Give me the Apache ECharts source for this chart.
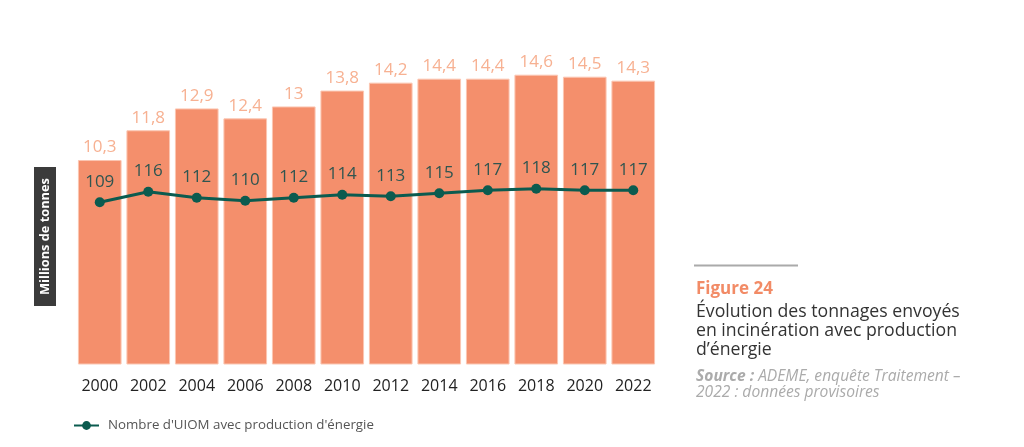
<!DOCTYPE html>
<html style="height: 100%">
  <head>
    <meta charset="utf-8" />
    <title>Figure 24</title>
    <script src="https://cdn.jsdelivr.net/npm/echarts@6/dist/echarts.min.js"></script>
  </head>
  <body style="height: 100%; margin: 0; background: #fff">
    <div id="main" style="width: 1024px; height: 447px"></div>
    <script type="text/javascript">
      var years = ["2000", "2002", "2004", "2006", "2008", "2010", "2012", "2014", "2016", "2018", "2020", "2022"];
      // millions de tonnes
      var tonnages = [10.3, 11.8, 12.9, 12.4, 13, 13.8, 14.2, 14.4, 14.4, 14.6, 14.5, 14.3];
      // nombre d'UIOM
      var uiom = [109, 116, 112, 110, 112, 114, 113, 115, 117, 118, 117, 117];

      var FONT = "Open Sans";
      var myChart = echarts.init(document.getElementById("main"));

      var option = {
        animation: false,
        textStyle: { fontFamily: FONT },
        grid: { left: 75.5, right: 366.5, top: 7.2, bottom: 82.5 },
        legend: {
          left: 68,
          top: 414,
          itemWidth: 25,
          itemHeight: 11,
          itemGap: 10,
          textStyle: { color: "#555", fontSize: 13.3, fontFamily: FONT, padding: [0, 0, 0, 4] },
          data: ["Nombre d'UIOM avec production d'énergie"],
        },
        xAxis: {
          type: "category",
          data: years,
          axisLine: { show: false },
          axisTick: { show: false },
          axisLabel: { color: "#222", fontSize: 16, margin: 14, interval: 0 },
        },
        yAxis: [
          { type: "value", min: 0, max: 18, show: false },
          { type: "value", min: 0, max: 240, show: false },
        ],
        series: [
          {
            name: "Tonnages",
            type: "bar",
            data: tonnages,
            barCategoryGap: "10%",
            itemStyle: { color: "#F48F6C", borderColor: "#FBC6B2", borderWidth: 1 },
            label: {
              show: true,
              position: "top",
              distance: 4,
              color: "#F7B192",
              fontSize: 17,
              formatter: function (p) {
                return String(p.value).replace(".", ",");
              },
            },
          },
          {
            name: "Nombre d'UIOM avec production d'énergie",
            type: "line",
            yAxisIndex: 1,
            data: uiom,
            symbol: "circle",
            symbolSize: 10,
            lineStyle: { color: "#0B5B4F", width: 3 },
            itemStyle: { color: "#0B5B4F" },
            label: {
              show: true,
              position: "top",
              distance: 7,
              color: "#2F5550",
              fontSize: 17,
            },
          },
        ],
        graphic: [
          {
            type: "group",
            left: 34,
            top: 167,
            children: [
              { type: "rect", shape: { x: 0, y: 0, width: 22, height: 139 }, style: { fill: "#3B3B3B" } },
              {
                type: "text",
                x: 11,
                y: 69.5,
                rotation: Math.PI / 2,
                style: {
                  text: "Millions de tonnes",
                  fill: "#fff",
                  font: "bold 12.8px " + FONT,
                  textAlign: "center",
                  textVerticalAlign: "middle",
                },
              },
            ],
          },
          {
            type: "rect",
            left: 694,
            top: 264.5,
            shape: { width: 104, height: 2 },
            style: { fill: "#AAAAAA" },
          },
          {
            type: "text",
            left: 696,
            top: 281,
            style: { text: "Figure 24", fill: "#F28B66", font: "bold 17px " + FONT },
          },
          {
            type: "text",
            left: 696,
            top: 302,
            style: {
              text: "Évolution des tonnages envoyés\nen incinération avec production\nd’énergie",
              fill: "#333",
              font: "17.7px " + FONT,
              lineHeight: 19,
            },
          },
          {
            type: "text",
            left: 696,
            top: 369,
            style: {
              text: "{b|Source :} ADEME, enquête Traitement –\n2022 : données provisoires",
              fill: "#ABABAB",
              font: "italic 15.6px " + FONT,
              lineHeight: 16,
              rich: {
                b: { fontWeight: "bold", fontStyle: "italic", fill: "#ABABAB", fontSize: 15.6, fontFamily: FONT, lineHeight: 16 },
              },
            },
          },
        ],
      };

      myChart.setOption(option);
    </script>
  </body>
</html>
